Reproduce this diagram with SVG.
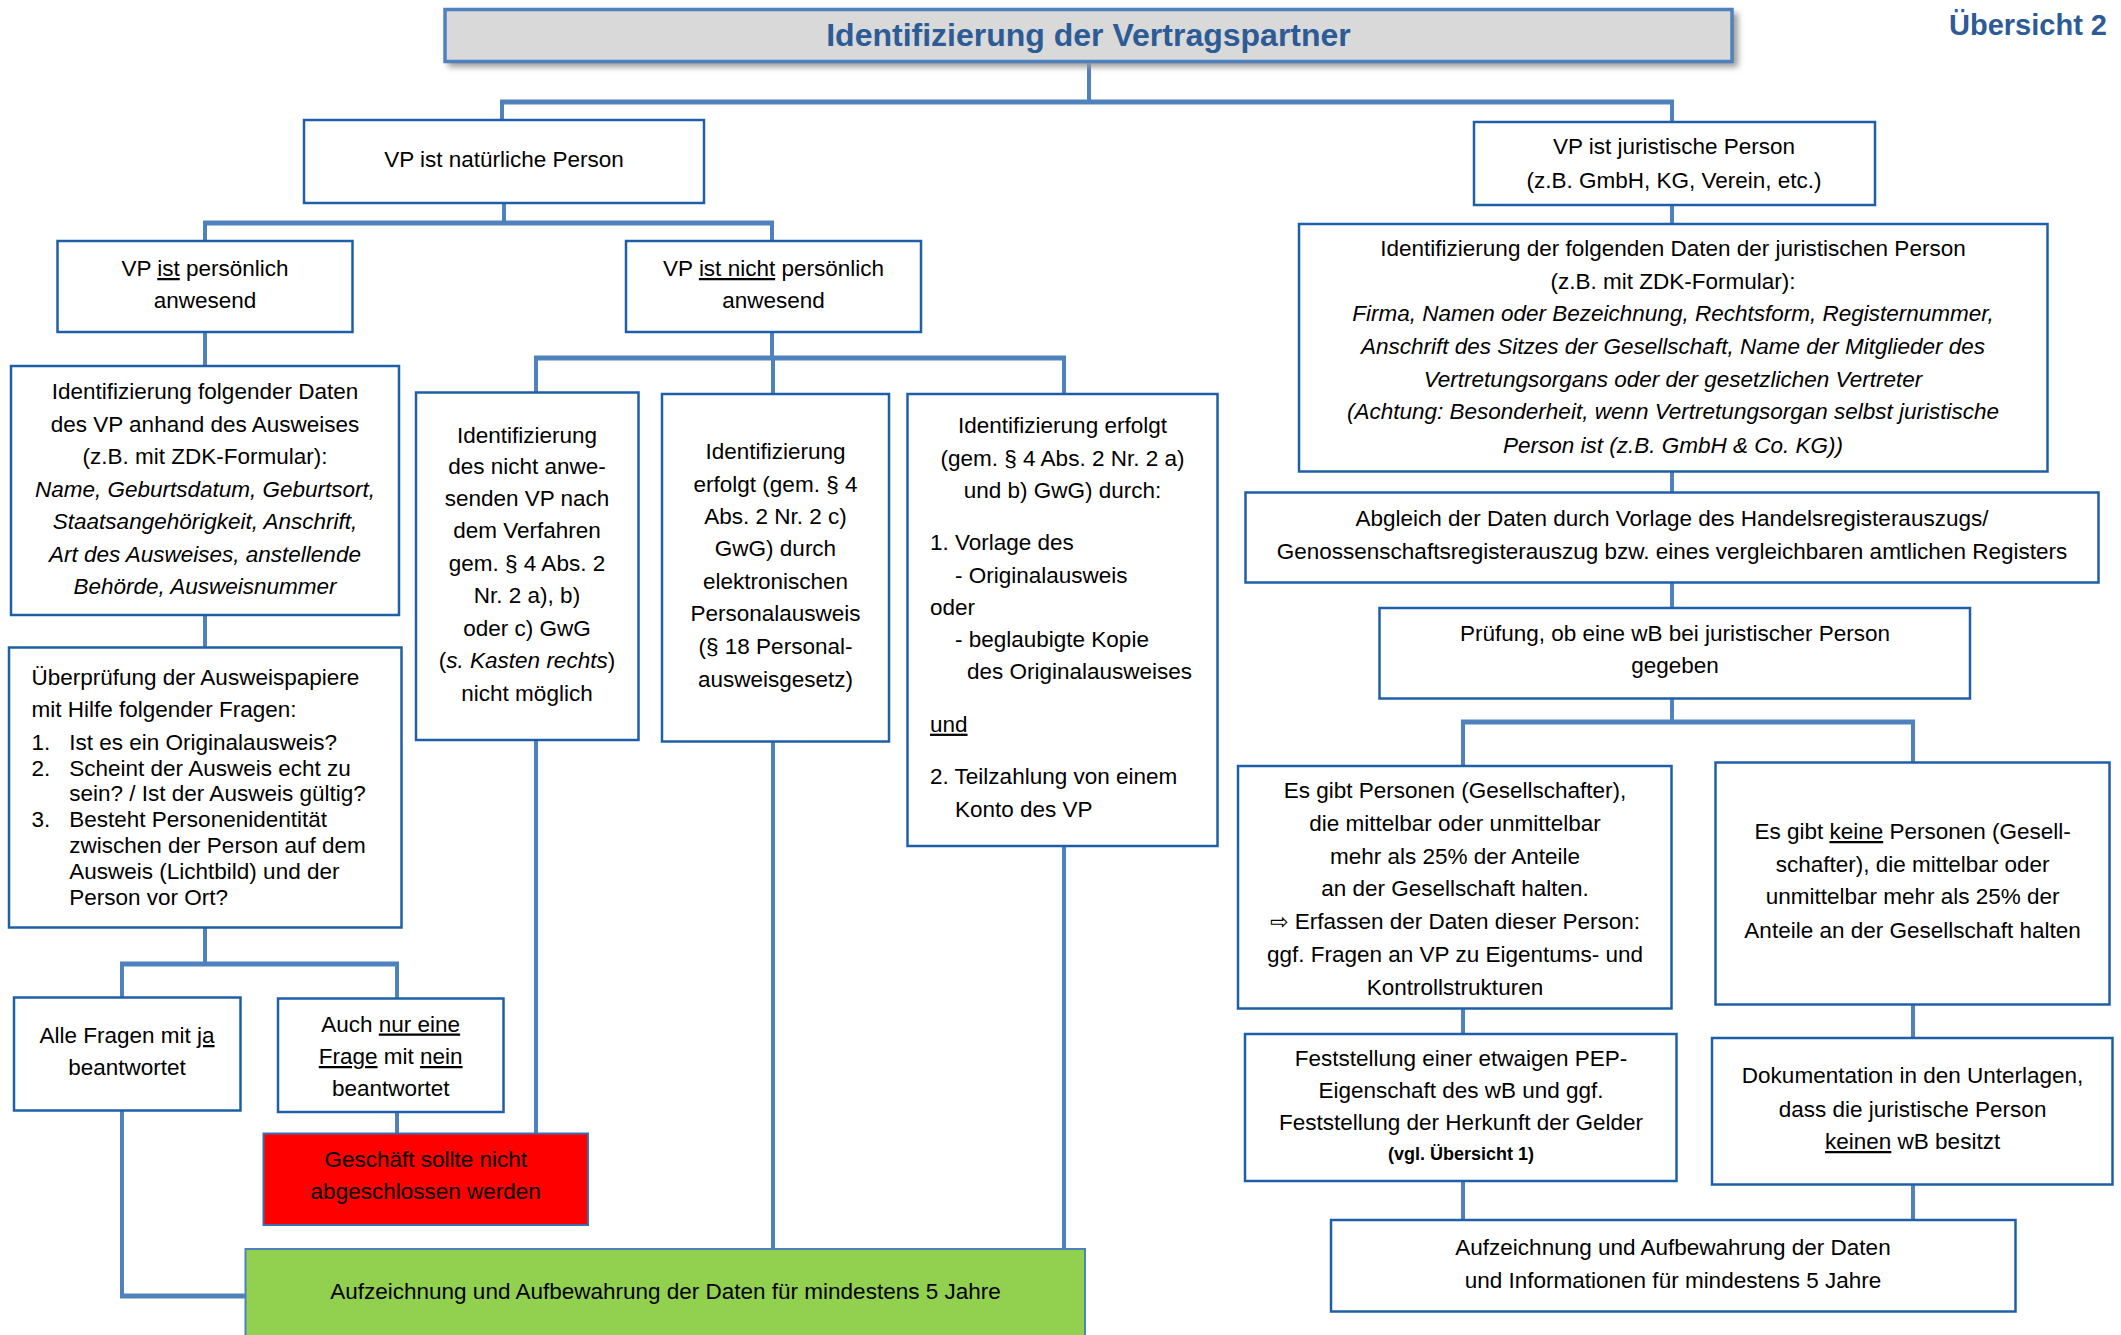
<svg xmlns="http://www.w3.org/2000/svg" width="2121" height="1335" viewBox="0 0 2121 1335">
<defs>
<style>
.box{fill:#fff;stroke:#1f5fa8;stroke-width:2.5}
.t{font-family:"Liberation Sans",Arial,Helvetica,sans-serif;font-size:22.5px;fill:#000}
.c{text-anchor:middle}
.i{font-style:italic}
.u{text-decoration:underline}
.con{fill:none;stroke:#4f81bd;stroke-width:4}
.bus{fill:none;stroke:#4f81bd;stroke-width:5}
.ttl{font-family:"Liberation Sans",Arial,Helvetica,sans-serif;font-weight:bold;fill:#2d5b95}
</style>
<filter id="sh" x="-5%" y="-30%" width="110%" height="180%">
<feGaussianBlur stdDeviation="3"/>
</filter>
</defs>
<rect width="2121" height="1335" fill="#fff"/>

<g id="connectors">
<path class="con" d="M1089,62 V102 M502,102 V120 M1672,102 V122"/>
<path class="bus" d="M500,102 H1674"/>
<path class="con" d="M504,203 V223 M205,223 V241 M772,223 V241"/>
<path class="bus" d="M203,223 H774"/>
<path class="con" d="M205,332 V366 M205,615 V647 M205,927 V964 M122,964 V997 M397,964 V998"/>
<path class="bus" d="M120,964 H399"/>
<path class="con" d="M397,1112 V1133"/>
<path class="con" d="M122,1111 V1296"/>
<path class="bus" d="M120,1296 H246"/>
<path class="con" d="M772,332 V358 M536,358 V392 M773,358 V394 M1064,358 V394"/>
<path class="bus" d="M534,358 H1066"/>
<path class="con" d="M536,740 V1133 M773,742 V1249 M1064,846 V1249"/>
<path class="con" d="M1672,205 V224 M1672,472 V492 M1672,583 V608 M1672,698 V722 M1463,722 V766 M1913,722 V762"/>
<path class="bus" d="M1461,722 H1915"/>
<path class="con" d="M1463,1008 V1034 M1913,1004 V1038 M1463,1181 V1220 M1913,1184 V1220"/>
</g>

<g id="title">
<rect x="448" y="13" width="1290" height="54" fill="#9a9a9a" filter="url(#sh)"/>
<rect x="445" y="9.5" width="1287" height="52" fill="#d9d9d9" stroke="#4f81bd" stroke-width="3.5"/>
<text class="ttl" x="1088.5" y="46" font-size="32" text-anchor="middle">Identifizierung der Vertragspartner</text>
</g>
<g id="uebersicht">
<text class="ttl" x="2107" y="35" font-size="29" text-anchor="end">Übersicht 2</text>
</g>

<g id="natuerlich">
<rect class="box" x="304" y="120" width="400" height="83"/>
<text class="t c" x="504" y="167">VP ist natürliche Person</text>
</g>

<g id="juristisch">
<rect class="box" x="1474" y="122" width="401" height="83"/>
<text class="t c" x="1674" y="154">VP ist juristische Person</text>
<text class="t c" x="1674" y="187.5">(z.B. GmbH, KG, Verein, etc.)</text>
</g>

<g id="anwesend">
<rect class="box" x="57.5" y="241" width="295" height="91"/>
<text class="t c" x="205" y="276">VP <tspan class="u">ist</tspan> persönlich</text>
<text class="t c" x="205" y="307.5">anwesend</text>
</g>

<g id="nicht-anwesend">
<rect class="box" x="626" y="241" width="295" height="91"/>
<text class="t c" x="773.5" y="276">VP <tspan class="u">ist nicht</tspan> persönlich</text>
<text class="t c" x="773.5" y="307.5">anwesend</text>
</g>

<g id="daten-ausweis">
<rect class="box" x="11" y="366" width="388" height="249"/>
<text class="t c" x="205" y="399">Identifizierung folgender Daten</text>
<text class="t c" x="205" y="431.5">des VP anhand des Ausweises</text>
<text class="t c" x="205" y="464">(z.B. mit ZDK-Formular):</text>
<text class="t c i" x="205" y="496.5">Name, Geburtsdatum, Geburtsort,</text>
<text class="t c i" x="205" y="529">Staatsangehörigkeit, Anschrift,</text>
<text class="t c i" x="205" y="561.5">Art des Ausweises, anstellende</text>
<text class="t c i" x="205" y="594">Behörde, Ausweisnummer</text>
</g>

<g id="ueberpruefung">
<rect class="box" x="9" y="647.5" width="392.5" height="280"/>
<text class="t" x="31.5" y="685">Überprüfung der Ausweispapiere</text>
<text class="t" x="31.5" y="716.5">mit Hilfe folgender Fragen:</text>
<text class="t" x="31.5" y="750">1.</text>
<text class="t" x="69.3" y="750">Ist es ein Originalausweis?</text>
<text class="t" x="31.5" y="775.5">2.</text>
<text class="t" x="69.3" y="775.5">Scheint der Ausweis echt zu</text>
<text class="t" x="69.3" y="801">sein? / Ist der Ausweis gültig?</text>
<text class="t" x="31.5" y="826.5">3.</text>
<text class="t" x="69.3" y="826.5">Besteht Personenidentität</text>
<text class="t" x="69.3" y="852.5">zwischen der Person auf dem</text>
<text class="t" x="69.3" y="879">Ausweis (Lichtbild) und der</text>
<text class="t" x="69.3" y="905">Person vor Ort?</text>
</g>

<g id="alle-ja">
<rect class="box" x="14" y="997.5" width="226.5" height="113"/>
<text class="t c" x="127" y="1043">Alle Fragen mit <tspan class="u">ja</tspan></text>
<text class="t c" x="127" y="1075">beantwortet</text>
</g>

<g id="eine-nein">
<rect class="box" x="278" y="998.5" width="225.5" height="113.5"/>
<text class="t c" x="390.7" y="1031.5">Auch <tspan class="u">nur eine</tspan></text>
<text class="t c" x="390.7" y="1064"><tspan class="u">Frage</tspan> mit <tspan class="u">nein</tspan></text>
<text class="t c" x="390.7" y="1096">beantwortet</text>
</g>

<g id="nicht-abschliessen">
<rect x="263.5" y="1133.5" width="324.5" height="91.5" fill="#ff0000" stroke="#3a6fb0" stroke-width="2"/>
<text class="t c" x="425.7" y="1166.7">Geschäft sollte nicht</text>
<text class="t c" x="425.7" y="1198.5">abgeschlossen werden</text>
</g>

<g id="aufzeichnung-links">
<rect x="245.5" y="1249" width="839.5" height="100" fill="#92d050" stroke="#4f81bd" stroke-width="2"/>
<text class="t c" x="665.5" y="1299">Aufzeichnung und Aufbewahrung der Daten für mindestens 5 Jahre</text>
</g>

<g id="verfahren-a">
<rect class="box" x="416" y="392.5" width="222.5" height="347.5"/>
<text class="t c" x="527" y="442.5">Identifizierung</text>
<text class="t c" x="527" y="474">des nicht anwe-</text>
<text class="t c" x="527" y="506">senden VP nach</text>
<text class="t c" x="527" y="538">dem Verfahren</text>
<text class="t c" x="527" y="571">gem. § 4 Abs. 2</text>
<text class="t c" x="527" y="602.5">Nr. 2 a), b)</text>
<text class="t c" x="527" y="636">oder c) GwG</text>
<text class="t c" x="527" y="668">(<tspan class="i">s. Kasten rechts</tspan>)</text>
<text class="t c" x="527" y="701">nicht möglich</text>
</g>

<g id="verfahren-b">
<rect class="box" x="662" y="394" width="227" height="347.5"/>
<text class="t c" x="775.5" y="459">Identifizierung</text>
<text class="t c" x="775.5" y="491.5">erfolgt (gem. § 4</text>
<text class="t c" x="775.5" y="524">Abs. 2 Nr. 2 c)</text>
<text class="t c" x="775.5" y="556">GwG) durch</text>
<text class="t c" x="775.5" y="589">elektronischen</text>
<text class="t c" x="775.5" y="621">Personalausweis</text>
<text class="t c" x="775.5" y="654">(§ 18 Personal-</text>
<text class="t c" x="775.5" y="687">ausweisgesetz)</text>
</g>

<g id="verfahren-c">
<rect class="box" x="907.5" y="394" width="310" height="452"/>
<text class="t c" x="1062.5" y="433.3">Identifizierung erfolgt</text>
<text class="t c" x="1062.5" y="465.7">(gem. § 4 Abs. 2 Nr. 2 a)</text>
<text class="t c" x="1062.5" y="498">und b) GwG) durch:</text>
<text class="t" x="930" y="550">1. Vorlage des</text>
<text class="t" x="955" y="582.7">- Originalausweis</text>
<text class="t" x="930" y="615">oder</text>
<text class="t" x="955" y="647.3">- beglaubigte Kopie</text>
<text class="t" x="967" y="679.3">des Originalausweises</text>
<text class="t u" x="930" y="731.7">und</text>
<text class="t" x="930" y="784">2. Teilzahlung von einem</text>
<text class="t" x="955" y="816.7">Konto des VP</text>
</g>

<g id="daten-juristisch">
<rect class="box" x="1299" y="224" width="748.5" height="247.5"/>
<text class="t c" x="1673" y="256">Identifizierung der folgenden Daten der juristischen Person</text>
<text class="t c" x="1673" y="289">(z.B. mit ZDK-Formular):</text>
<text class="t c i" x="1673" y="321">Firma, Namen oder Bezeichnung, Rechtsform, Registernummer,</text>
<text class="t c i" x="1673" y="354">Anschrift des Sitzes der Gesellschaft, Name der Mitglieder des</text>
<text class="t c i" x="1673" y="386.5">Vertretungsorgans oder der gesetzlichen Vertreter</text>
<text class="t c i" x="1673" y="419">(Achtung: Besonderheit, wenn Vertretungsorgan selbst juristische</text>
<text class="t c i" x="1673" y="452.5">Person ist (z.B. GmbH &amp; Co. KG))</text>
</g>

<g id="abgleich">
<rect class="box" x="1245.5" y="492.5" width="853" height="90"/>
<text class="t c" x="1672" y="526">Abgleich der Daten durch Vorlage des Handelsregisterauszugs/</text>
<text class="t c" x="1672" y="559">Genossenschaftsregisterauszug bzw. eines vergleichbaren amtlichen Registers</text>
</g>

<g id="pruefung-wb">
<rect class="box" x="1379.5" y="608" width="590.5" height="90.5"/>
<text class="t c" x="1675" y="641">Prüfung, ob eine wB bei juristischer Person</text>
<text class="t c" x="1675" y="672.5">gegeben</text>
</g>

<g id="es-gibt-personen">
<rect class="box" x="1238" y="766" width="433.5" height="242.5"/>
<text class="t c" x="1455" y="798">Es gibt Personen (Gesellschafter),</text>
<text class="t c" x="1455" y="831">die mittelbar oder unmittelbar</text>
<text class="t c" x="1455" y="863.5">mehr als 25% der Anteile</text>
<text class="t c" x="1455" y="896">an der Gesellschaft halten.</text>
<text class="t c" x="1455" y="929"><tspan font-family="DejaVu Sans" style="font-family:'DejaVu Sans';font-size:22px">⇨</tspan> Erfassen der Daten dieser Person:</text>
<text class="t c" x="1455" y="962">ggf. Fragen an VP zu Eigentums- und</text>
<text class="t c" x="1455" y="994.5">Kontrollstrukturen</text>
</g>

<g id="keine-personen">
<rect class="box" x="1715.5" y="762.5" width="394" height="242"/>
<text class="t c" x="1912.6" y="839">Es gibt <tspan class="u">keine</tspan> Personen (Gesell-</text>
<text class="t c" x="1912.6" y="871.5">schafter), die mittelbar oder</text>
<text class="t c" x="1912.6" y="904">unmittelbar mehr als 25% der</text>
<text class="t c" x="1912.6" y="937.5">Anteile an der Gesellschaft halten</text>
</g>

<g id="feststellung-pep">
<rect class="box" x="1245" y="1034" width="431.5" height="147"/>
<text class="t c" x="1461" y="1066">Feststellung einer etwaigen PEP-</text>
<text class="t c" x="1461" y="1098.3">Eigenschaft des wB und ggf.</text>
<text class="t c" x="1461" y="1130">Feststellung der Herkunft der Gelder</text>
<text class="t c" x="1461" y="1160" font-size="18" font-weight="bold" style="font-size:18px">(vgl. Übersicht 1)</text>
</g>

<g id="dokumentation">
<rect class="box" x="1712" y="1038" width="400.5" height="146.5"/>
<text class="t c" x="1912.6" y="1083">Dokumentation in den Unterlagen,</text>
<text class="t c" x="1912.6" y="1116.5">dass die juristische Person</text>
<text class="t c" x="1912.6" y="1149"><tspan class="u">keinen</tspan> wB besitzt</text>
</g>

<g id="aufzeichnung-rechts">
<rect class="box" x="1331" y="1220" width="684.5" height="91.5"/>
<text class="t c" x="1673" y="1255">Aufzeichnung und Aufbewahrung der Daten</text>
<text class="t c" x="1673" y="1287.5">und Informationen für mindestens 5 Jahre</text>
</g>
</svg>
